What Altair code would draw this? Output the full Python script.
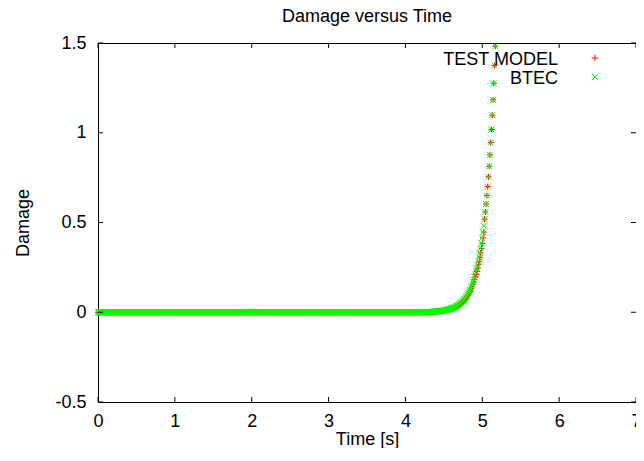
import altair as alt
import pandas as pd

# ---- data ----
n_points = 518          # time steps of 0.01 s, t = 0.00 ... 5.17
time_step = 0.01
flat_count = 437        # t = 0.00 ... 4.36, damage ~ 0

btec_rise = [
    0.0037, 0.0040, 0.0043, 0.0046, 0.0050, 0.0054, 0.0058, 0.0062, 0.0067, 0.0072,
    0.0078, 0.0084, 0.0090, 0.0097, 0.0105, 0.0113, 0.0122, 0.0131, 0.0142, 0.0153,
    0.0165, 0.0178, 0.0191, 0.0206, 0.0222, 0.0240, 0.0258, 0.0278, 0.0300, 0.0323,
    0.0349, 0.0376, 0.0405, 0.0437, 0.0471, 0.0507, 0.0547, 0.0589, 0.0635, 0.0685,
    0.0738, 0.0795, 0.0857, 0.0924, 0.0996, 0.1074, 0.1157, 0.1247, 0.1344, 0.1449,
    0.1562, 0.1684, 0.1815, 0.1956, 0.2109, 0.2273, 0.2450, 0.2641, 0.2846, 0.3068,
    0.3307, 0.3565, 0.3842, 0.4141, 0.4464, 0.4812, 0.5186, 0.5590, 0.6026, 0.6495,
    0.7001, 0.7546, 0.8134, 0.8767, 0.9450, 1.0186, 1.0979, 1.1834, 1.2756, 1.3749,
    1.482,
]
test_rise = [
    0.0034, 0.0037, 0.0040, 0.0043, 0.0046, 0.0050, 0.0054, 0.0058, 0.0062, 0.0067,
    0.0072, 0.0078, 0.0084, 0.0090, 0.0097, 0.0105, 0.0113, 0.0122, 0.0131, 0.0142,
    0.0153, 0.0165, 0.0178, 0.0191, 0.0206, 0.0222, 0.0240, 0.0258, 0.0278, 0.0300,
    0.0323, 0.0349, 0.0376, 0.0405, 0.0437, 0.0471, 0.0507, 0.0547, 0.0589, 0.0635,
    0.0685, 0.0738, 0.0795, 0.0857, 0.0924, 0.0996, 0.1074, 0.1157, 0.1247, 0.1344,
    0.1449, 0.1562, 0.1684, 0.1815, 0.1956, 0.2109, 0.2273, 0.2450, 0.2641, 0.2846,
    0.3068, 0.3307, 0.3565, 0.3842, 0.4141, 0.4464, 0.5186, 0.5590, 0.6026, 0.6495,
    0.7001, 0.7546, 0.8134, 0.8767, 0.9450, 1.0186, 1.0979, 1.1834, 1.2756, 1.3749,
    1.482,
]

series_names = ["TEST MODEL", "BTEC"]
series_colors = ["#ff0000", "#00ff00"]
x_ticks = [0, 1, 2, 3, 4, 5, 6, 7]
y_ticks = [-0.5, 0, 0.5, 1, 1.5]

time = [round(i * time_step, 2) for i in range(n_points)]
test_damage = [0.0] * flat_count + test_rise
btec_damage = [0.0] * flat_count + btec_rise

df = pd.concat([
    pd.DataFrame({"t": time, "d": test_damage, "s": series_names[0]}),
    pd.DataFrame({"t": time, "d": btec_damage, "s": series_names[1]}),
], ignore_index=True)

# ---- styling ----
FONT = "Liberation Sans"
FS = 18
W, H = 538, 359
PLUS = "M-1,0L1,0M0,-1L0,1"
CROSS = "M-1,-1L1,1M-1,1L1,-1"
TL = 5

xs = alt.Scale(domain=[0, 7], nice=False, zero=False)
ys = alt.Scale(domain=[-0.5, 1.5], nice=False, zero=False)

x_axis = alt.Axis(
    values=x_ticks, ticks=False, domain=False, grid=False,
    labelPadding=10, labelFlush=False, labelOverlap=False,
    labelFont=FONT, labelFontSize=FS, labelColor="black",
    title="Time [s]", titleFont=FONT, titleFontSize=FS, titleFontWeight="normal",
    titleColor="black", titleY=42.5, titleBaseline="alphabetic")
y_axis = alt.Axis(
    values=y_ticks, ticks=False, domain=False, grid=False,
    labelPadding=12, labelFlush=False, labelOverlap=False,
    labelExpr="datum.value < 0 ? '-' + format(-datum.value, '') : format(datum.value, '')",
    labelFont=FONT, labelFontSize=FS, labelColor="black",
    title="Damage", titleFont=FONT, titleFontSize=FS, titleFontWeight="normal",
    titleColor="black", titleX=-70, titleY=H / 2, titleBaseline="alphabetic")

points = alt.Chart(df).mark_point(filled=False, strokeWidth=1, size=36, opacity=1).encode(
    x=alt.X("t:Q", scale=xs, axis=x_axis),
    y=alt.Y("d:Q", scale=ys, axis=y_axis),
    color=alt.Color("s:N", scale=alt.Scale(domain=series_names, range=series_colors), legend=None),
    shape=alt.Shape("s:N", scale=alt.Scale(domain=series_names, range=[PLUS, CROSS]), legend=None),
)

xt = pd.DataFrame({"t": x_ticks})
yt = pd.DataFrame({"d": y_ticks})
tick_bottom = alt.Chart(xt).mark_rule(color="black", strokeWidth=1).encode(
    x=alt.X("t:Q", scale=xs, axis=x_axis), y=alt.value(H), y2=alt.value(H - TL))
tick_top = alt.Chart(xt).mark_rule(color="black", strokeWidth=1).encode(
    x=alt.X("t:Q", scale=xs, axis=x_axis), y=alt.value(0), y2=alt.value(TL))
tick_left = alt.Chart(yt).mark_rule(color="black", strokeWidth=1).encode(
    y=alt.Y("d:Q", scale=ys, axis=y_axis), x=alt.value(0), x2=alt.value(TL))
tick_right = alt.Chart(yt).mark_rule(color="black", strokeWidth=1).encode(
    y=alt.Y("d:Q", scale=ys, axis=y_axis), x=alt.value(W), x2=alt.value(W - TL))

def legend_entry(i, y_text, y_sym, shape):
    lab = alt.Chart(pd.DataFrame({"label": [series_names[i]]})).mark_text(
        align="right", baseline="alphabetic", font=FONT, fontSize=FS, color="black"
    ).encode(text="label:N", x=alt.value(460), y=alt.value(y_text))
    sym = alt.Chart(pd.DataFrame({"label": [series_names[i]]})).mark_point(
        filled=False, strokeWidth=1, size=42, opacity=1, shape=shape, color=series_colors[i]
    ).encode(x=alt.value(497), y=alt.value(y_sym))
    return lab + sym

chart = alt.layer(
    points, tick_bottom, tick_top, tick_left, tick_right,
    legend_entry(0, 22, 15, PLUS), legend_entry(1, 40.5, 34, CROSS),
).properties(
    width=W, height=H,
    autosize=alt.AutoSizeParams(type="none"),
    padding={"left": 90, "top": 35, "right": 0, "bottom": 46},
    background="white",
    title=alt.TitleParams("Damage versus Time", font=FONT, fontSize=FS, fontWeight="normal",
                          color="black", anchor="middle", baseline="alphabetic", offset=0,
                          frame="group", dy=6),
).configure_view(stroke="black", strokeWidth=1)

chart.save("out.html", embed_options={"renderer": "svg", "actions": False})
